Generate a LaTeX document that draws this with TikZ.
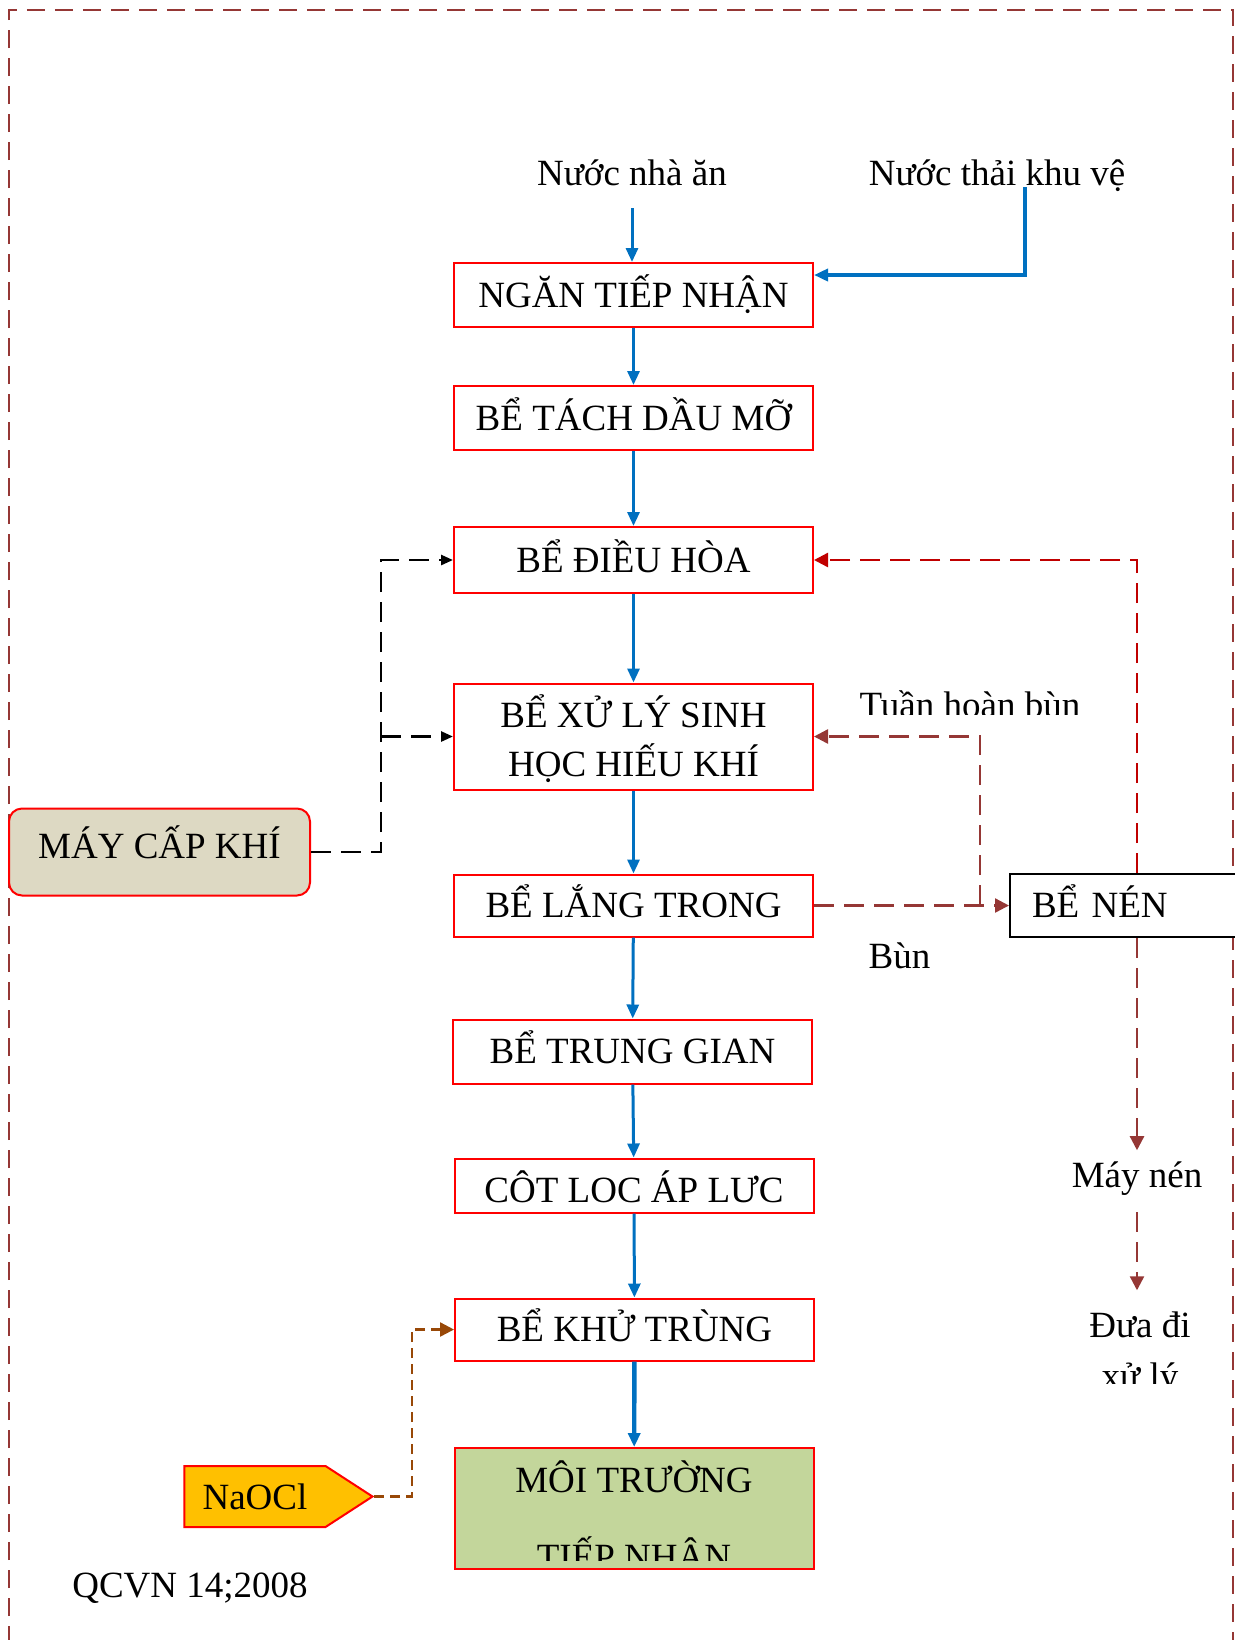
\documentclass[tikz,border=0pt]{standalone}
\usepackage{fontspec}
\setmainfont{Liberation Serif}
\usetikzlibrary{arrows.meta,shapes.symbols}
\definecolor{flowblue}{HTML}{0070C0}
\definecolor{boxred}{HTML}{FF0000}
\definecolor{darkred}{HTML}{C00000}
\definecolor{sludge}{HTML}{953735}
\definecolor{chlor}{HTML}{984807}
\definecolor{khaki}{HTML}{DDD9C3}
\definecolor{leaf}{HTML}{C3D69B}
\definecolor{gold}{HTML}{FFC000}

\begin{document}
\begin{tikzpicture}[x=0.5pt,y=-0.5pt,line join=miter,
    font=\fontsize{18.5}{24.5}\selectfont,
    tank/.style={draw=boxred,line width=1pt,minimum width=179.5pt,align=center,inner sep=2pt,text height=15pt,text depth=3pt},
    flow/.style={-{Triangle[length=7pt,width=6pt]},color=flowblue,line width=1.5pt},
    air/.style={-{Triangle[length=6pt,width=5pt]},line width=1.3pt,dash pattern=on 10pt off 5pt},
    mud/.style={-{Triangle[length=7pt,width=7pt]},color=sludge,line width=1.2pt,dash pattern=on 10pt off 5pt}]

    \useasboundingbox (0,0) rectangle (1235,1640);
    \clip (0,0) rectangle (1235,1640);

    % frame
    \draw[sludge,line width=1pt,dash pattern=on 9pt off 5pt] (9,1700) -- (9,10) -- (1233,10) -- (1233,1700);

    % process line
    \node[tank,minimum height=32pt] (ngan) at (633.5,295) {NGĂN TIẾP NHẬN};
    \node[tank,minimum height=32pt] (tach) at (633.5,418) {BỂ TÁCH DẦU MỠ};
    \node[tank,minimum height=33pt] (dieuhoa) at (633.5,560) {BỂ ĐIỀU HÒA};
    \node[tank,minimum height=53pt,text height=41.5pt,text depth=2pt] (xuly) at (633.5,736.5) {BỂ XỬ LÝ SINH\\HỌC HIẾU KHÍ};
    \node[tank,minimum height=31pt] (lang) at (633.5,905.5) {BỂ LẮNG TRONG};
    \node[tank,minimum height=32pt] (trunggian) at (632.5,1051.5) {BỂ TRUNG GIAN};
    \node[tank,minimum height=27pt] (cotloc) at (634,1185.5) {};
    \begin{scope}
        \clip (455,1160) rectangle (813,1203.5);
        \node[anchor=base] (cotloctext) at (634,1202.7) {CỘT LỌC ÁP LỰC};
    \end{scope}
    \node[tank,minimum height=31pt] (khutrung) at (634.5,1329.5) {BỂ KHỬ TRÙNG};
    \node[tank,fill=leaf,minimum height=60.5pt] (moitruong) at (634,1508.5) {};
    \begin{scope}
        \clip ([yshift=5pt]moitruong.south west) rectangle (moitruong.north east);
        \node[anchor=base] (mt1) at (634,1492) {MÔI TRƯỜNG};
        \node[anchor=base] (mt2) at (634,1569) {TIẾP NHẬN};
    \end{scope}

    % side units
    \node[draw=boxred,fill=khaki,rounded corners=6.5pt,line width=1pt,minimum width=150.5pt,minimum height=43.5pt,text height=15pt,text depth=9pt] (maycap) at (159.5,852) {MÁY CẤP KHÍ};
    \node[draw,fill=white,line width=1pt,anchor=north west,minimum height=31.5pt,text width=100pt,align=left,inner xsep=11pt,text height=15pt,text depth=3pt] (benen) at (1009,873) {BỂ NÉN};
    \node[signal,signal to=east,signal pointer angle=66,draw=boxred,fill=gold,line width=1pt,minimum width=94pt,minimum height=30.5pt] (naocl) at (255,1496.5) {NaOCl};

    % texts
    \node[anchor=base] (nhaan) at (632,185) {Nước nhà ăn};
    \node[anchor=base] (khuve) at (997,185) {Nước thải khu vệ};
    \node[anchor=base] (bun) at (899.5,968) {Bùn};
    \node[anchor=base] (maynen) at (1137,1187) {Máy nén};
    \node[anchor=base] (duadi) at (1140,1337) {Đưa đi};
    \begin{scope}
        \clip (1000,1300) rectangle (1230,1383);
        \node[anchor=base] (xuly2) at (1140,1388) {xử lý};
    \end{scope}
    \begin{scope}
        \clip (840,650) rectangle (1120,714);
        \node[anchor=base] (tuanhoan) at (970,717.5) {Tuần hoàn bùn};
    \end{scope}
    \node[anchor=base] (qcvn) at (190,1597) {QCVN 14;2008};

    % water flow
    \coordinate (thaiend) at (1025,187);
    \draw[flow,shorten <=8pt] (nhaan.south) -- (nhaan.south |- ngan.north);
    \draw[flow,line width=2.2pt] (thaiend) |- ([yshift=10pt]ngan.east);
    \foreach \a/\b in {ngan/tach,tach/dieuhoa,dieuhoa/xuly,xuly/lang,lang/trunggian,trunggian/cotloc,cotloc/khutrung}
        \draw[flow] (\a) -- (\b);
    \draw[flow,line width=2.2pt] (khutrung) -- (moitruong);

    % air
    \coordinate (airtop) at ([xshift=-36pt]dieuhoa.west);
    \coordinate (airmid) at ([xshift=-36pt]xuly.west);
    \draw[air] (maycap.east) -| (airtop) -- (dieuhoa.west);
    \draw[air] (airmid) -- (xuly.west);

    % sludge
    \coordinate (nentop) at ([xshift=64pt]benen.north west);
    \coordinate (nenbot) at ([xshift=64pt]benen.south west);
    \coordinate (bunx) at (980,905);
    \draw[mud,color=darkred] (nentop) |- (dieuhoa.east);
    \draw[mud] (lang.east) -- (benen.west);
    \draw[mud] (bunx) |- (xuly.east);
    \draw[mud,shorten >=2pt] (nenbot) -- (maynen.north);
    \draw[mud,shorten <=5pt,shorten >=7pt] (maynen.south) -- (maynen.south |- duadi.north);

    % chlorine
    \coordinate (clx) at ([xshift=-21pt]khutrung.west);
    \draw[chlor,line width=1.2pt,dash pattern=on 5pt off 3pt,-{Triangle[length=7pt,width=7pt]}] (naocl.east) -| (clx) -- (khutrung.west);
\end{tikzpicture}
\end{document}
